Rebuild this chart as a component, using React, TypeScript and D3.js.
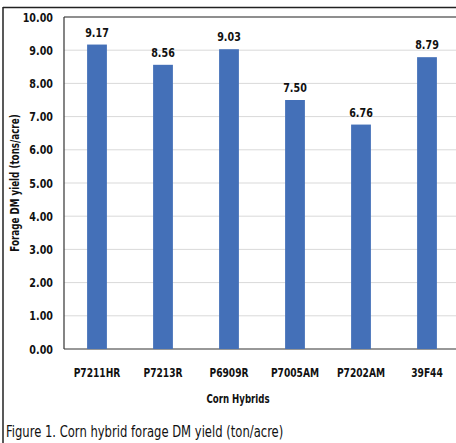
import { useEffect, useRef } from 'react'
import * as d3 from 'd3'

const hybrids = ['P7211HR', 'P7213R', 'P6909R', 'P7005AM', 'P7202AM', '39F44']
const yields = [9.17, 8.56, 9.03, 7.5, 6.76, 8.79]
const yTicks = [0, 1, 2, 3, 4, 5, 6, 7, 8, 9, 10]

const FONT = "'DejaVu Sans Condensed', 'DejaVu Sans', sans-serif"
// reference uses a narrow Calibri-like face, so squeeze text horizontally
const SQUEEZE = 0.82

export default function App() {
  const svgRef = useRef<SVGSVGElement>(null)

  useEffect(() => {
    if (!svgRef.current) return
    const width = 456
    const height = 443
    const margin = { top: 17, right: -4, bottom: 94, left: 64 }
    const innerWidth = width - margin.left - margin.right
    const innerHeight = height - margin.top - margin.bottom

    const svg = d3.select(svgRef.current)
    svg.selectAll('*').remove()
    svg.attr('width', width).attr('height', height)

    svg.append('rect').attr('width', width).attr('height', height).attr('fill', '#fff')

    // outer frame (top + left)
    svg.append('line').attr('x1', 3).attr('x2', width).attr('y1', 7.5).attr('y2', 7.5)
      .attr('stroke', '#222').attr('stroke-width', 1.5)
    svg.append('line').attr('x1', 3).attr('x2', 3).attr('y1', 7).attr('y2', height)
      .attr('stroke', '#222').attr('stroke-width', 1.5)

    const x = d3.scaleBand().domain(hybrids).range([0, innerWidth]).paddingInner(0.7).paddingOuter(0.35)
    const y = d3.scaleLinear().domain([0, 10]).range([innerHeight, 0])

    const g = svg.append('g').attr('transform', `translate(${margin.left},${margin.top})`)

    // grid
    g.append('g')
      .selectAll('line')
      .data(yTicks.slice(1))
      .join('line')
      .attr('x1', 0).attr('x2', innerWidth)
      .attr('y1', d => y(d)).attr('y2', d => y(d))
      .attr('stroke', '#d9d9d9').attr('stroke-width', 1)

    // plot box top + left + baseline
    g.append('line').attr('x1', 0).attr('x2', innerWidth).attr('y1', 0).attr('y2', 0)
      .attr('stroke', '#333').attr('stroke-width', 1.2)
    g.append('line').attr('x1', 0).attr('x2', 0).attr('y1', 0).attr('y2', innerHeight)
      .attr('stroke', '#333').attr('stroke-width', 1.2)
    g.append('line').attr('x1', 0).attr('x2', innerWidth).attr('y1', innerHeight).attr('y2', innerHeight)
      .attr('stroke', '#333').attr('stroke-width', 1.2)

    const boldText = (sel: d3.Selection<any, any, any, any>, size: number) =>
      sel.attr('font-family', FONT)
        .attr('font-weight', 'bold')
        .attr('font-size', size)
        .attr('fill', '#111')

    // y tick labels
    boldText(g.append('g')
      .selectAll('text')
      .data(yTicks)
      .join('text')
      .attr('transform', d => `translate(-11,${y(d)}) scale(${SQUEEZE},1)`)
      .attr('dy', '0.35em')
      .attr('text-anchor', 'end'), 13)
      .text(d => d.toFixed(2))

    // bars
    g.append('g')
      .selectAll('rect')
      .data(yields)
      .join('rect')
      .attr('x', (_, i) => x(hybrids[i])!)
      .attr('width', x.bandwidth())
      .attr('y', d => y(d))
      .attr('height', d => innerHeight - y(d))
      .attr('fill', '#4470b8')

    // value labels
    boldText(g.append('g')
      .selectAll('text')
      .data(yields)
      .join('text')
      .attr('transform', (d, i) => `translate(${x(hybrids[i])! + x.bandwidth() / 2},${y(d) - 8}) scale(${SQUEEZE},1)`)
      .attr('text-anchor', 'middle'), 13)
      .text(d => d.toFixed(2))

    // category labels
    boldText(g.append('g')
      .selectAll('text')
      .data(hybrids)
      .join('text')
      .attr('transform', d => `translate(${x(d)! + x.bandwidth() / 2},${innerHeight + 28}) scale(0.78,1)`)
      .attr('text-anchor', 'middle'), 13)
      .text(d => d)

    // x title
    boldText(svg.append('text')
      .attr('transform', `translate(238,403) scale(0.8,1)`)
      .attr('text-anchor', 'middle'), 12)
      .text('Corn Hybrids')

    // y title
    boldText(svg.append('text')
      .attr('transform', `translate(19,${margin.top + innerHeight / 2}) rotate(-90) scale(0.78,1)`)
      .attr('text-anchor', 'middle'), 12.5)
      .text('Forage DM yield (tons/acre)')

    // caption
    svg.append('text')
      .attr('transform', 'translate(6,437) scale(0.86,1)')
      .attr('font-family', FONT)
      .attr('font-size', 15)
      .attr('fill', '#111')
      .text('Figure 1. Corn hybrid forage DM yield (ton/acre)')
  }, [])

  return <svg ref={svgRef} style={{ position: 'absolute', top: 0, left: 0, display: 'block' }} />
}
